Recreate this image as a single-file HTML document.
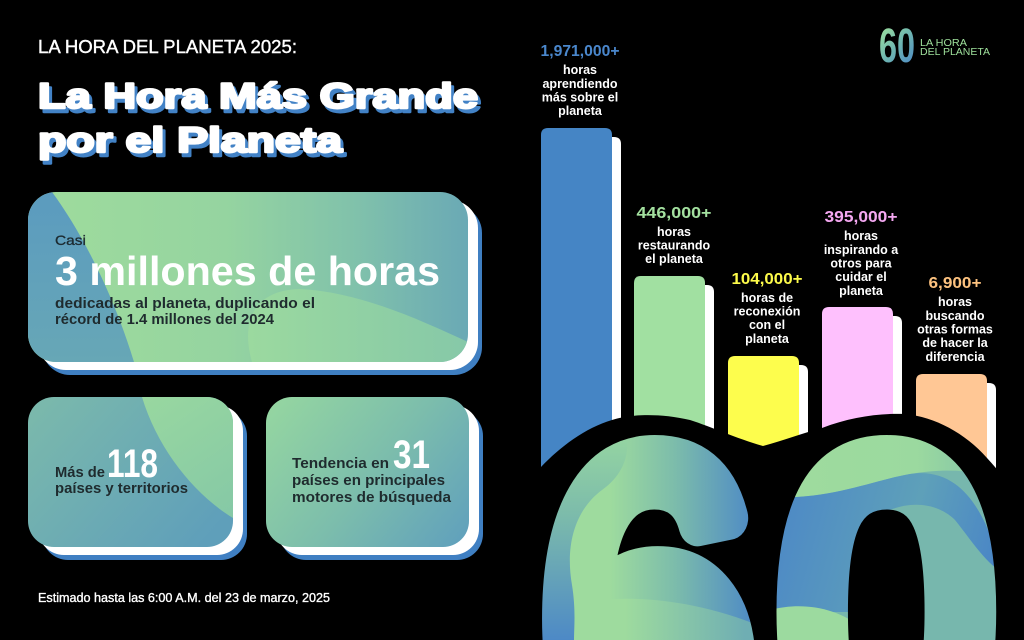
<!DOCTYPE html>
<html><head><meta charset="utf-8"><style>
html,body{margin:0;padding:0;background:#000;width:1024px;height:640px;overflow:hidden;}
svg{display:block;overflow:hidden;}
text{font-family:"Liberation Sans",sans-serif;}
</style></head><body>
<svg width="1024" height="640" viewBox="0 0 1024 640" xmlns="http://www.w3.org/2000/svg">
<defs>
  <clipPath id="cMain"><rect x="28" y="192" width="440" height="170" rx="28"/></clipPath>
  <clipPath id="c1"><rect x="28" y="397" width="205" height="150" rx="26"/></clipPath>
  <clipPath id="c2"><rect x="266" y="397" width="203" height="150" rx="26"/></clipPath>
  <clipPath id="cPage"><rect x="0" y="0" width="1024" height="640"/></clipPath>
  <linearGradient id="gMain" gradientUnits="userSpaceOnUse" x1="28" y1="0" x2="468" y2="0">
    <stop offset="0" stop-color="#9fdc9c"/><stop offset="0.45" stop-color="#95d4a0"/>
    <stop offset="0.75" stop-color="#80c1ab"/><stop offset="1" stop-color="#6aa9b5"/>
  </linearGradient>
  <linearGradient id="gBL" gradientUnits="userSpaceOnUse" x1="0" y1="192" x2="0" y2="362">
    <stop offset="0" stop-color="#5b9bbf"/><stop offset="1" stop-color="#67a7b6"/>
  </linearGradient>
  <linearGradient id="gBlob" gradientUnits="userSpaceOnUse" x1="250" y1="0" x2="468" y2="0">
    <stop offset="0" stop-color="#9bd99f"/><stop offset="1" stop-color="#86c8a8"/>
  </linearGradient>
  <linearGradient id="g1" gradientUnits="userSpaceOnUse" x1="28" y1="397" x2="200" y2="547">
    <stop offset="0" stop-color="#7cbaab"/><stop offset="1" stop-color="#5f9fba"/>
  </linearGradient>
  <linearGradient id="g1b" gradientUnits="userSpaceOnUse" x1="150" y1="397" x2="233" y2="520">
    <stop offset="0" stop-color="#98d7a0"/><stop offset="1" stop-color="#85c8a6"/>
  </linearGradient>
  <linearGradient id="g2" gradientUnits="userSpaceOnUse" x1="280" y1="397" x2="469" y2="547">
    <stop offset="0" stop-color="#94d5a1"/><stop offset="0.5" stop-color="#7cbdac"/><stop offset="1" stop-color="#5f9fbd"/>
  </linearGradient>
  <linearGradient id="gLogo" gradientUnits="userSpaceOnUse" x1="879" y1="28" x2="915" y2="62">
    <stop offset="0" stop-color="#9fe19c"/><stop offset="0.5" stop-color="#6fb7b0"/><stop offset="1" stop-color="#4f8cc5"/>
  </linearGradient>
  <!-- 60 gradients -->
  <linearGradient id="g6a" gradientUnits="userSpaceOnUse" x1="610" y1="0" x2="755" y2="0">
    <stop offset="0" stop-color="#9edb9e"/><stop offset="0.45" stop-color="#7cbcab"/><stop offset="1" stop-color="#4d89c6"/>
  </linearGradient>
  <linearGradient id="g6L" gradientUnits="userSpaceOnUse" x1="0" y1="433" x2="0" y2="640">
    <stop offset="0" stop-color="#96d6a1"/><stop offset="0.4" stop-color="#7cbbab"/><stop offset="1" stop-color="#4d89c6"/>
  </linearGradient>
  <linearGradient id="g6B" gradientUnits="userSpaceOnUse" x1="625" y1="0" x2="745" y2="0">
    <stop offset="0" stop-color="#9edb9e"/><stop offset="1" stop-color="#6faeb3"/>
  </linearGradient>
  <linearGradient id="g0T" gradientUnits="userSpaceOnUse" x1="800" y1="0" x2="996" y2="0">
    <stop offset="0" stop-color="#9edb9e"/><stop offset="0.6" stop-color="#9bd99f"/><stop offset="1" stop-color="#7fc1aa"/>
  </linearGradient>
  <linearGradient id="g0B" gradientUnits="userSpaceOnUse" x1="780" y1="500" x2="996" y2="560">
    <stop offset="0" stop-color="#4d89c6"/><stop offset="0.6" stop-color="#5ea0b9"/><stop offset="1" stop-color="#4a86c6"/>
  </linearGradient>
  <mask id="m60" maskUnits="userSpaceOnUse" x="0" y="0" width="1024" height="640">
    <rect x="0" y="0" width="1024" height="640" fill="#000"/>
    <g font-size="381" fill="#fff" stroke="#fff" stroke-width="37.6" stroke-linejoin="round">
      <text transform="translate(541.5 762.6) scale(1 1.15)" x="0" y="0">6</text>
      <text transform="translate(780.4 762.6) scale(1 1.15)" x="0" y="0">0</text>
    </g>
    <!-- fill the lower bowl interior of the 6 (counter sits below the frame in the original) -->
    <path d="M604 640 C 606 622, 625 606, 655 604 C 685 603, 702 618, 706 640 Z" fill="#fff"/>
  </mask>
</defs>

<rect width="1024" height="640" fill="#000"/>

<!-- Header -->
<text x="38" y="53" font-size="18" fill="#fff" stroke="#fff" stroke-width="0.4" textLength="259" lengthAdjust="spacingAndGlyphs">LA HORA DEL PLANETA 2025:</text>

<!-- Title -->
<g font-size="35" font-weight="bold" stroke-linejoin="round">
  <text x="41" y="112" fill="#4282c6" stroke="#4282c6" stroke-width="2.4" textLength="440" lengthAdjust="spacingAndGlyphs">La Hora Más Grande</text>
  <text x="41" y="156" fill="#4282c6" stroke="#4282c6" stroke-width="2.4" textLength="304" lengthAdjust="spacingAndGlyphs">por el Planeta</text>
  <text x="38" y="108" fill="#fff" stroke="#fff" stroke-width="2.4" textLength="440" lengthAdjust="spacingAndGlyphs">La Hora Más Grande</text>
  <text x="38" y="152" fill="#fff" stroke="#fff" stroke-width="2.4" textLength="304" lengthAdjust="spacingAndGlyphs">por el Planeta</text>
</g>

<!-- Main card -->
<rect x="42" y="205" width="440" height="170" rx="28" fill="#3f7fc2"/>
<rect x="38" y="200" width="440" height="170" rx="28" fill="#fff"/>
<g clip-path="url(#cMain)">
  <rect x="28" y="192" width="440" height="170" fill="url(#gMain)"/>
  <path d="M28 192 L52 192 C 80 230, 112 290, 134 362 L28 362 Z" fill="url(#gBL)"/>
  <path d="M252 362 C 240 320, 255 290, 300 289 C 360 292, 420 320, 468 342 L468 362 Z" fill="url(#gBlob)"/>
</g>
<text x="55" y="245" font-size="14" fill="#1c2a30" stroke="#1c2a30" stroke-width="0.3" textLength="31" lengthAdjust="spacingAndGlyphs">Casi</text>
<text x="55" y="285" font-size="41" font-weight="bold" fill="#fff" textLength="385" lengthAdjust="spacingAndGlyphs">3 millones de horas</text>
<text x="55" y="308" font-size="15" font-weight="bold" fill="#1f2b2e" textLength="260" lengthAdjust="spacingAndGlyphs">dedicadas al planeta, duplicando el</text>
<text x="55" y="324" font-size="15" font-weight="bold" fill="#1f2b2e" textLength="219" lengthAdjust="spacingAndGlyphs">récord de 1.4 millones del 2024</text>

<!-- Card 1 -->
<rect x="42" y="410" width="205" height="150" rx="26" fill="#3f7fc2"/>
<rect x="38" y="405" width="205" height="150" rx="26" fill="#fff"/>
<g clip-path="url(#c1)">
  <rect x="28" y="397" width="205" height="150" fill="url(#g1)"/>
  <path d="M142 397 C 158 450, 195 495, 233 518 L233 397 Z" fill="url(#g1b)"/>
</g>
<text x="55" y="477" font-size="15" font-weight="bold" fill="#1f2b2e" textLength="50" lengthAdjust="spacingAndGlyphs">Más de</text>
<text x="107" y="477" font-size="40" font-weight="bold" fill="#fff" textLength="51" lengthAdjust="spacingAndGlyphs">118</text>
<text x="55" y="493" font-size="15" font-weight="bold" fill="#1f2b2e" textLength="133" lengthAdjust="spacingAndGlyphs">países y territorios</text>

<!-- Card 2 -->
<rect x="280" y="410" width="203" height="150" rx="26" fill="#3f7fc2"/>
<rect x="276" y="405" width="203" height="150" rx="26" fill="#fff"/>
<g clip-path="url(#c2)">
  <rect x="266" y="397" width="203" height="150" fill="url(#g2)"/>
</g>
<text x="292" y="468" font-size="15" font-weight="bold" fill="#1f2b2e" textLength="97" lengthAdjust="spacingAndGlyphs">Tendencia en</text>
<text x="393" y="468" font-size="40" font-weight="bold" fill="#fff" textLength="37" lengthAdjust="spacingAndGlyphs">31</text>
<text x="292" y="485" font-size="15" font-weight="bold" fill="#1f2b2e" textLength="153" lengthAdjust="spacingAndGlyphs">países en principales</text>
<text x="292" y="502" font-size="15" font-weight="bold" fill="#1f2b2e" textLength="159" lengthAdjust="spacingAndGlyphs">motores de búsqueda</text>

<!-- Footer -->
<text x="38" y="602" font-size="12.5" fill="#fff" stroke="#fff" stroke-width="0.35" textLength="292" lengthAdjust="spacingAndGlyphs">Estimado hasta las 6:00 A.M. del 23 de marzo, 2025</text>

<!-- Logo -->
<text x="879" y="62" font-size="48" font-weight="bold" fill="url(#gLogo)" textLength="36" lengthAdjust="spacingAndGlyphs">60</text>
<text x="920" y="46" font-size="10.5" fill="#9fe19c" textLength="47" lengthAdjust="spacingAndGlyphs">LA HORA</text>
<text x="920" y="55" font-size="10.5" fill="#9fe19c" textLength="70" lengthAdjust="spacingAndGlyphs">DEL PLANETA</text>

<!-- Bars -->
<path d="M550 144 Q550 137 557 137 H614 Q621 137 621 144 V640 H550 Z" fill="#fff"/>
<path d="M541 135 Q541 128 548 128 H605 Q612 128 612 135 V640 H541 Z" fill="#4585c5"/>
<path d="M643 292 Q643 285 650 285 H707 Q714 285 714 292 V640 H643 Z" fill="#fff"/>
<path d="M634 283 Q634 276 641 276 H698 Q705 276 705 283 V640 H634 Z" fill="#a1e0a1"/>
<path d="M737 372 Q737 365 744 365 H801 Q808 365 808 372 V640 H737 Z" fill="#fff"/>
<path d="M728 363 Q728 356 735 356 H792 Q799 356 799 363 V640 H728 Z" fill="#fdfd4d"/>
<path d="M831 323 Q831 316 838 316 H895 Q902 316 902 323 V640 H831 Z" fill="#fff"/>
<path d="M822 314 Q822 307 829 307 H886 Q893 307 893 314 V640 H822 Z" fill="#fec0fd"/>
<path d="M925 390 Q925 383 932 383 H989 Q996 383 996 390 V640 H925 Z" fill="#fff"/>
<path d="M916 381 Q916 374 923 374 H980 Q987 374 987 381 V640 H916 Z" fill="#ffc795"/>

<!-- Bar labels -->
<g font-weight="bold" text-anchor="middle">
  <text x="580" y="56" font-size="15.5" fill="#4a87cc" textLength="79" lengthAdjust="spacingAndGlyphs">1,971,000+</text>
  <g font-size="12.5" fill="#fff">
    <text x="580" y="74">horas</text>
    <text x="580" y="88">aprendiendo</text>
    <text x="580" y="101.5">más sobre el</text>
    <text x="580" y="115">planeta</text>
  </g>
  <text x="674" y="218" font-size="15.5" fill="#a3e09f" textLength="75" lengthAdjust="spacingAndGlyphs">446,000+</text>
  <g font-size="12.5" fill="#fff">
    <text x="674" y="236">horas</text>
    <text x="674" y="249.5">restaurando</text>
    <text x="674" y="263">el planeta</text>
  </g>
  <text x="767" y="284" font-size="15.5" fill="#fdfb4a" textLength="71" lengthAdjust="spacingAndGlyphs">104,000+</text>
  <g font-size="12.5" fill="#fff">
    <text x="767" y="302">horas de</text>
    <text x="767" y="315.5">reconexión</text>
    <text x="767" y="329">con el</text>
    <text x="767" y="343">planeta</text>
  </g>
  <text x="861" y="222" font-size="15.5" fill="#f5a8f2" textLength="73" lengthAdjust="spacingAndGlyphs">395,000+</text>
  <g font-size="12.5" fill="#fff">
    <text x="861" y="240">horas</text>
    <text x="861" y="254">inspirando a</text>
    <text x="861" y="267.5">otros para</text>
    <text x="861" y="281">cuidar el</text>
    <text x="861" y="295">planeta</text>
  </g>
  <text x="955" y="288" font-size="15.5" fill="#fdc27f" textLength="53" lengthAdjust="spacingAndGlyphs">6,900+</text>
  <g font-size="12.5" fill="#fff">
    <text x="955" y="306">horas</text>
    <text x="955" y="320">buscando</text>
    <text x="955" y="333.5">otras formas</text>
    <text x="955" y="347">de hacer la</text>
    <text x="955" y="361">diferencia</text>
  </g>
</g>

<!-- Big 60 -->
<g clip-path="url(#cPage)">
  <!-- black silhouette behind the digits -->
  <path d="M515 640 L515 500 C 518 485, 528 474, 541 467 C 560 447, 585 428, 612 420 C 630 414, 660 413, 690 420 C 712 427, 735 438, 763 446 C 785 440, 800 434, 822 428 C 850 417, 880 413, 905 414 C 935 417, 965 433, 987 458 C 1000 472, 1010 485, 1016 500 L1016 640 Z" fill="#000"/>
  <g mask="url(#m60)">
    <!-- 6 -->
    <rect x="515" y="410" width="255" height="230" fill="url(#g6a)"/>
    <path d="M515 410 H618 C 634 440, 630 470, 602 490 C 575 510, 565 545, 572 585 C 576 610, 574 628, 574 640 H515 Z" fill="url(#g6L)"/>
    <path d="M600 600 C 640 596, 700 600, 770 630 L770 640 L600 640 Z" fill="url(#g6B)"/>
    <!-- 0 -->
    <rect x="770" y="410" width="240" height="230" fill="#77b7ad"/>
    <path d="M770 410 H1010 V480 C 975 470, 945 468, 910 474 C 870 481, 830 500, 770 497 Z" fill="url(#g0T)"/>
    <path d="M770 497 C 830 500, 870 481, 910 474 C 950 468, 972 495, 986 525 C 992 540, 998 552, 1010 556 L1010 575 C 990 570, 975 545, 955 520 C 940 505, 915 500, 890 510 C 860 530, 855 580, 850 612 L770 612 Z" fill="url(#g0B)"/>
    <path d="M770 610 C 800 602, 835 606, 862 628 L862 640 L770 640 Z" fill="#9cda9f"/>
  </g>
</g>
</svg>
</body></html>
